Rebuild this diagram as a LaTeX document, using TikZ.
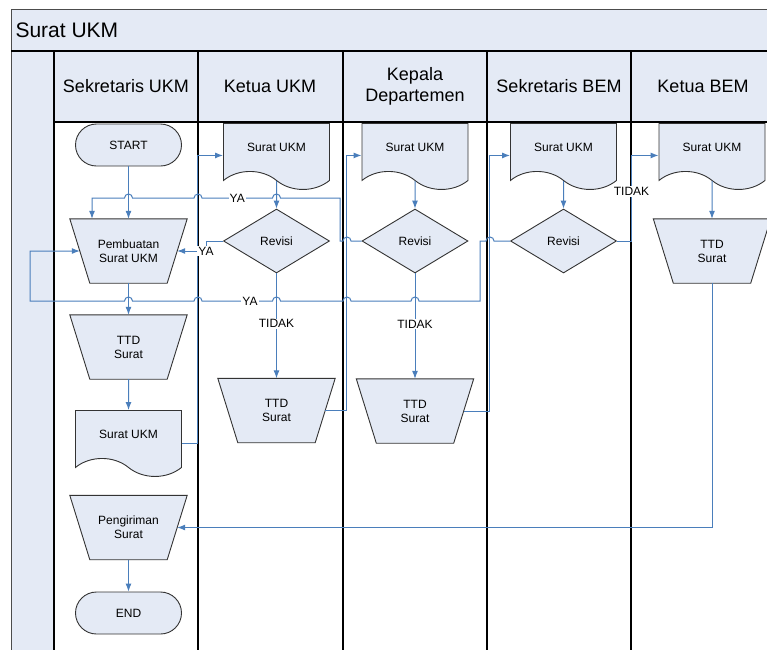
\documentclass[tikz,border=0pt]{standalone}
\usepackage{fontspec}
\setmainfont{Liberation Sans}
\usetikzlibrary{shapes.geometric,shapes.symbols,arrows.meta,positioning,calc}
\definecolor{LaneFill}{HTML}{E4EAF5}
\definecolor{FlowBlue}{HTML}{4A7EBB}
\definecolor{ShapeLine}{HTML}{333333}
\tikzset{
  shapebox/.style={draw=ShapeLine,fill=LaneFill,line width=0.9pt,align=center,inner sep=0pt},
  terminal/.style={shapebox,rounded corners=21pt,minimum width=106pt,minimum height=42pt},
  docbox/.style={shapebox,tape,tape bend top=none,tape bend bottom=out and in,tape bend height=18pt,minimum width=106pt,minimum height=66pt},
  manual/.style={align=center,inner sep=0pt,minimum width=97pt,minimum height=64pt,
    append after command={\pgfextra{\filldraw[draw=ShapeLine,fill=LaneFill,line width=0.9pt]
      ($(\tikzlastnode.north west)+(-10,0)$) -- ($(\tikzlastnode.north east)+(10,0)$) --
      ($(\tikzlastnode.south east)+(-10,0)$) -- ($(\tikzlastnode.south west)+(10,0)$) -- cycle;}}},
  decision/.style={shapebox,diamond,minimum width=106pt,minimum height=64pt},
  flow/.style={FlowBlue,line width=1pt},
  flowarrow/.style={flow,-{Latex[length=8pt,width=6pt]}},
  flowlabel/.style={fill=white,inner sep=1pt,text=black},
  lanehead/.style={font=\fontsize{18}{21}\selectfont,align=center}
}
\begin{document}
\begin{tikzpicture}[x=1pt,y=-1pt,every node/.style={font=\fontsize{12}{14}\selectfont}]
  \useasboundingbox (0,0) rectangle (767,649);
  \clip (0,0) rectangle (767,649);
  \fill[LaneFill] (11,9) rectangle (790,122);
  \fill[LaneFill] (11,9) rectangle (54,660);
  \draw[black!70,line width=1pt] (11,660) -- (11,9) -- (790,9);
  \draw[line width=2pt] (11,51) -- (790,51);
  \draw[line width=1.3pt] (54,122) -- (790,122);
  \foreach \x in {54,198,343,487,631}{\draw[line width=1.3pt] (\x,51) -- (\x,660);}
  \node[anchor=west,font=\fontsize{21}{25}\selectfont] (title) at (12,30) {Surat UKM};
  \foreach \x/\t [count=\i] in {126/Sekretaris UKM,270/Ketua UKM,415/{Kepala\\Departemen},559/Sekretaris BEM,703/Ketua BEM}{\node[lanehead] (head\i) at (\x,86) {\t};}

  \node[terminal] (start) at (128.5,145) {START};
  \node[manual] (buat) at (128.5,251) {Pembuatan\\Surat UKM};
  \node[manual] (ttd1) at (128.5,347) {TTD\\Surat};
  \node[docbox,anchor=north] (surat1) at (128.5,410) {Surat UKM};
  \node[manual] (kirim) at (128.5,527.5) {Pengiriman\\Surat};
  \node[terminal] (selesai) at (128.5,613) {END};

  \node[docbox,anchor=north] (surat2) at (276.5,123) {Surat UKM};
  \node[decision] (rev2) at (276.5,241) {Revisi};
  \node[manual] (ttd2) at (276.5,410.5) {TTD\\Surat};

  \node[docbox,anchor=north] (surat3) at (415,123) {Surat UKM};
  \node[decision] (rev3) at (415,241) {Revisi};
  \node[manual] (ttd3) at (415,411) {TTD\\Surat};

  \node[docbox,anchor=north] (surat4) at (563.5,123) {Surat UKM};
  \node[decision] (rev4) at (563.5,241) {Revisi};

  \node[docbox,anchor=north] (surat5) at (712,123) {Surat UKM};
  \node[manual] (ttd5) at (712,251) {TTD\\Surat};

  \foreach \a/\b in {start/buat,buat/ttd1,ttd1/surat1,kirim/selesai,surat2/rev2,surat3/rev3,surat4/rev4,surat5/ttd5}{\draw[flowarrow] (\a) -- (\b);}
  \draw[flowarrow] (rev2) -- node[flowlabel,pos=0.48] {TIDAK} (ttd2);
  \draw[flowarrow] (rev3) -- node[flowlabel,pos=0.48] {TIDAK} (ttd3);

  \draw[flowarrow] ([yshift=-9pt]surat1.east) -| ([xshift=-25.5pt,yshift=-8pt]surat2.west) -- ([yshift=-8pt]surat2.west);
  \draw[flowarrow] (ttd2.east) -| ([xshift=-15pt,yshift=-8pt]surat3.west) -- ([yshift=-8pt]surat3.west);
  \draw[flowarrow] (ttd3.east) -| ([xshift=-20.5pt,yshift=-8pt]surat4.west) -- ([yshift=-8pt]surat4.west);
  \draw[flowarrow] (rev4.east) -| ([xshift=-27pt,yshift=-8pt]surat5.west) node[flowlabel,pos=0.79] {TIDAK} -- ([yshift=-8pt]surat5.west);
  \draw[flowarrow] (ttd5.south) |- (kirim.east);

  \draw[flowarrow] (rev2.west) -- ++(-17,0) |- node[flowlabel,pos=0.5] {YA} (buat.east);
  \draw[flowarrow] (rev3.west) -- (351,241) arc[start angle=0,end angle=180,radius=4pt] -- (340,241) -- (340,198)
    -- (280.5,198) arc[start angle=0,end angle=180,radius=4pt] -- node[flowlabel,pos=0.5] {YA} (202,198)
    arc[start angle=0,end angle=180,radius=4pt] -- (132.5,198) arc[start angle=0,end angle=180,radius=4pt]
    -- (92,198) -- ([xshift=-36.5pt]buat.north);
  \draw[flowarrow] (rev4.west) -- (494,241) arc[start angle=0,end angle=180,radius=4pt] -- (480,241) -- (480,301)
    -- (419,301) arc[start angle=0,end angle=180,radius=4pt] -- (351,301) arc[start angle=0,end angle=180,radius=4pt]
    -- (280.5,301) arc[start angle=0,end angle=180,radius=4pt] -- node[flowlabel,pos=0.32] {YA} (202,301)
    arc[start angle=0,end angle=180,radius=4pt] -- (132.5,301) arc[start angle=0,end angle=180,radius=4pt]
    -- (30,301) |- (buat.west);
\end{tikzpicture}
\end{document}
